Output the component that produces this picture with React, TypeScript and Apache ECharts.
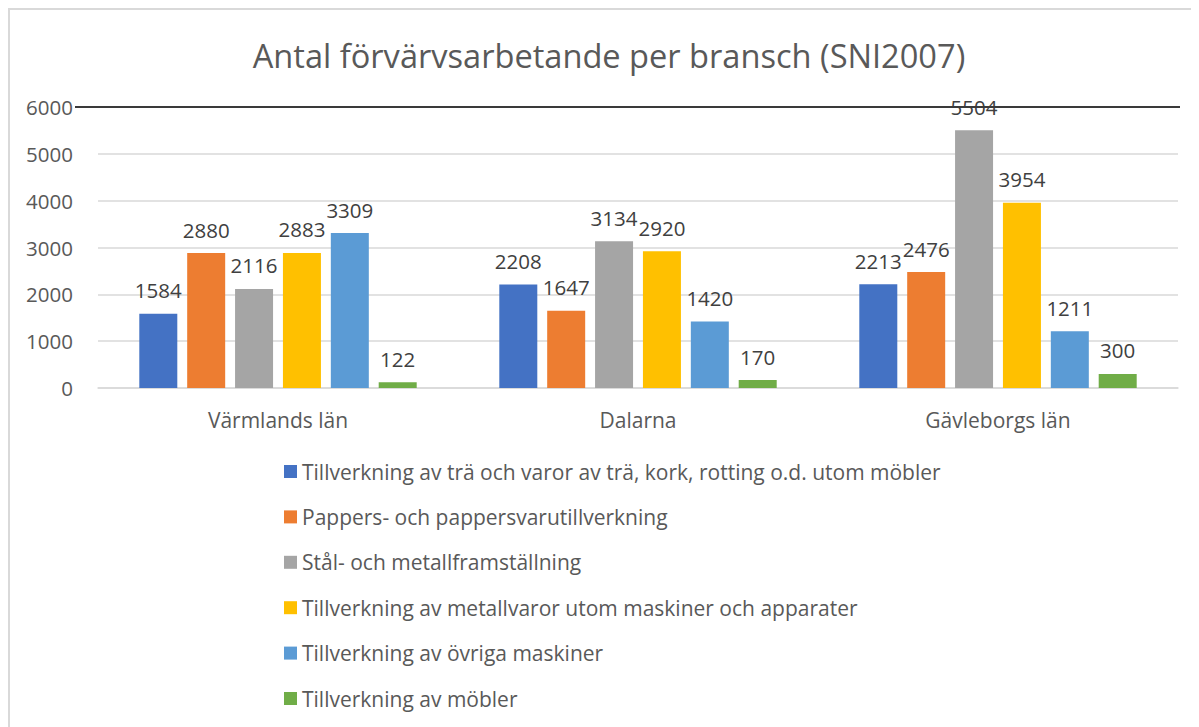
import React, { useEffect, useRef } from "react";
import * as echarts from "echarts";

const categories = ["Värmlands län", "Dalarna", "Gävleborgs län"];
const seriesNames = [
  "Tillverkning av trä och varor av trä, kork, rotting o.d. utom möbler",
  "Pappers- och pappersvarutillverkning",
  "Stål- och metallframställning",
  "Tillverkning av metallvaror utom maskiner och apparater",
  "Tillverkning av övriga maskiner",
  "Tillverkning av möbler",
];
const traValues = [1584, 2208, 2213];
const pappersValues = [2880, 1647, 2476];
const stalValues = [2116, 3134, 5504];
const metallvarorValues = [2883, 2920, 3954];
const maskinerValues = [3309, 1420, 1211];
const moblerValues = [122, 170, 300];
const colors = ["#4472C4", "#ED7D31", "#A5A5A5", "#FFC000", "#5B9BD5", "#70AD47"];
const FONT = "'Open Sans', sans-serif";

export default function App() {
  const ref = useRef<HTMLDivElement>(null);
  useEffect(() => {
    if (!ref.current) return;
    const chart = echarts.init(ref.current, undefined, { renderer: "svg" });
    const allValues = [traValues, pappersValues, stalValues, metallvarorValues, maskinerValues, moblerValues];
    chart.setOption({
      animation: false,
      title: {
        text: "Antal förvärvsarbetande per bransch (SNI2007)",
        left: 596,
        top: 26,
        textAlign: "center",
        textStyle: { fontFamily: FONT, fontSize: 32.6, fontWeight: "normal", color: "#595959" },
      },
      legend: {
        orient: "vertical",
        left: 276,
        top: 453,
        padding: 0,
        itemWidth: 13,
        itemHeight: 13,
        itemGap: 24.4,
        itemTextGap: 6,
        itemStyle: { borderWidth: 0 },
        icon: "rect",
        textStyle: { fontFamily: FONT, fontSize: 21, color: "#595959", lineHeight: 20, padding: [0, 0, 0, 0] },
        data: seriesNames,
      },
      grid: { left: 90, right: 21, top: 99, bottom: 339, containLabel: false },
      xAxis: {
        type: "category",
        data: categories,
        axisLine: { lineStyle: { color: "#d9d9d9", width: 1.5 } },
        axisTick: { show: false },
        axisLabel: { fontFamily: FONT, fontSize: 21, color: "#595959", margin: 21 },
      },
      yAxis: {
        type: "value",
        min: 0,
        max: 6000,
        interval: 1000,
        axisLine: { show: false },
        axisTick: { show: false },
        axisLabel: {
          fontFamily: FONT,
          fontSize: 20.5,
          color: "#595959",
          margin: 25,
          formatter: (v: number) => String(v),
        },
        splitLine: { lineStyle: { color: "#d9d9d9", width: 1.5 } },
      },
      series: allValues.map((vals, i) => ({
        type: "bar",
        name: seriesNames[i],
        data: vals,
        barWidth: 38,
        barGap: "26%",
        itemStyle: { color: colors[i] },
        label: {
          show: true,
          position: "top",
          distance: 13,
          fontFamily: FONT,
          fontSize: 20.5,
          color: "#404040",
        },
      })),
      graphic: [
        {
          type: "rect",
          shape: { x: 1, y: 1, width: 1300, height: 900 },
          style: { fill: "none", stroke: "#d9d9d9", lineWidth: 2 },
          silent: true,
        },
        {
          type: "line",
          shape: { x1: 67, y1: 99, x2: 1172, y2: 99 },
          style: { stroke: "#3a3a3a", lineWidth: 2 },
          silent: true,
          z: 10,
        },
      ],
    });
    return () => chart.dispose();
  }, []);
  return <div ref={ref} style={{ width: 1191, height: 719 }} />;
}
